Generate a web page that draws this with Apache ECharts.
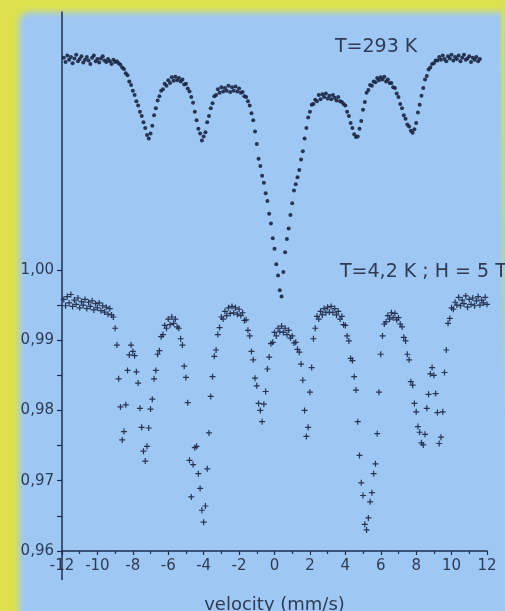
<!DOCTYPE html>
<html>
<head>
<meta charset="utf-8">
<script src="https://cdn.jsdelivr.net/npm/echarts@6/dist/echarts.min.js"></script>
<style>
  html, body { margin: 0; padding: 0; }
  body { width: 505px; height: 611px; position: relative; overflow: hidden; background: #dde24c; }
  #panel { position: absolute; left: 19px; top: 12px; right: -12px; bottom: -12px; background: #9fc7f3;
           border-top-left-radius: 10px; filter: blur(3px); }
  #edge { position: absolute; right: 0; top: 0; width: 4px; height: 420px;
          background: linear-gradient(to bottom, #d4e160, rgba(212, 225, 96, 0)); filter: blur(1px); }
  #chart { position: absolute; left: 0; top: 0; width: 505px; height: 611px; }
</style>
</head>
<body>
<div id="panel"></div>
<div id="edge"></div>
<div id="chart"></div>
<script>
// Velocity channels (mm/s)
const velocity = [
  -11.9,-11.8,-11.7,-11.6,-11.5,-11.4,-11.3,-11.2,-11.1,-11.0,
  -10.9,-10.8,-10.7,-10.6,-10.5,-10.4,-10.3,-10.2,-10.1,-10.0,
  -9.9,-9.8,-9.7,-9.6,-9.5,-9.4,-9.3,-9.2,-9.1,-9.0,
  -8.9,-8.8,-8.7,-8.6,-8.5,-8.4,-8.3,-8.2,-8.1,-8.0,
  -7.9,-7.8,-7.7,-7.6,-7.5,-7.4,-7.3,-7.2,-7.1,-7.0,
  -6.9,-6.8,-6.7,-6.6,-6.5,-6.4,-6.3,-6.2,-6.1,-6.0,
  -5.9,-5.8,-5.7,-5.6,-5.5,-5.4,-5.3,-5.2,-5.1,-5.0,
  -4.9,-4.8,-4.7,-4.6,-4.5,-4.4,-4.3,-4.2,-4.1,-4.0,
  -3.9,-3.8,-3.7,-3.6,-3.5,-3.4,-3.3,-3.2,-3.1,-3.0,
  -2.9,-2.8,-2.7,-2.6,-2.5,-2.4,-2.3,-2.2,-2.1,-2.0,
  -1.9,-1.8,-1.7,-1.6,-1.5,-1.4,-1.3,-1.2,-1.1,-1.0,
  -0.9,-0.8,-0.7,-0.6,-0.5,-0.4,-0.3,-0.2,-0.1,0.0,
  0.1,0.2,0.3,0.4,0.5,0.6,0.7,0.8,0.9,1.0,
  1.1,1.2,1.3,1.4,1.5,1.6,1.7,1.8,1.9,2.0,
  2.1,2.2,2.3,2.4,2.5,2.6,2.7,2.8,2.9,3.0,
  3.1,3.2,3.3,3.4,3.5,3.6,3.7,3.8,3.9,4.0,
  4.1,4.2,4.3,4.4,4.5,4.6,4.7,4.8,4.9,5.0,
  5.1,5.2,5.3,5.4,5.5,5.6,5.7,5.8,5.9,6.0,
  6.1,6.2,6.3,6.4,6.5,6.6,6.7,6.8,6.9,7.0,
  7.1,7.2,7.3,7.4,7.5,7.6,7.7,7.8,7.9,8.0,
  8.1,8.2,8.3,8.4,8.5,8.6,8.7,8.8,8.9,9.0,
  9.1,9.2,9.3,9.4,9.5,9.6,9.7,9.8,9.9,10.0,
  10.1,10.2,10.3,10.4,10.5,10.6,10.7,10.8,10.9,11.0,
  11.1,11.2,11.3,11.4,11.5,11.6,11.7,11.8,11.9,12.0
];

// Relative transmission at T = 293 K (stacked above the low-temperature spectrum)
const transmission293K = [
  1.0302,1.0296,1.0305,1.0299,1.0303,1.0294,1.0301,1.0306,1.0297,1.0300,
  1.0304,1.0295,1.0299,1.0303,1.0298,1.0293,1.0302,1.0305,1.0297,1.0300,
  1.0295,1.0301,1.0304,1.0298,1.0296,1.0300,1.0297,1.0293,1.0299,1.0296,
  1.0297,1.0294,1.0292,1.0288,1.0286,1.0280,1.0277,1.0268,1.0263,1.0255,
  1.0249,1.0240,1.0234,1.0225,1.0219,1.0210,1.0202,1.0192,1.0187,1.0194,
  1.0205,1.0220,1.0230,1.0241,1.0247,1.0255,1.0257,1.0265,1.0262,1.0270,
  1.0266,1.0274,1.0269,1.0275,1.0270,1.0273,1.0268,1.0271,1.0264,1.0265,
  1.0258,1.0254,1.0246,1.0238,1.0225,1.0213,1.0201,1.0194,1.0184,1.0190,
  1.0196,1.0210,1.0219,1.0230,1.0237,1.0247,1.0249,1.0257,1.0252,1.0260,
  1.0254,1.0259,1.0255,1.0262,1.0253,1.0260,1.0255,1.0261,1.0254,1.0258,
  1.0252,1.0253,1.0247,1.0246,1.0240,1.0234,1.0223,1.0213,1.0197,1.0179,
  1.0158,1.0148,1.0134,1.0124,1.0109,1.0098,1.0080,1.0066,1.0045,1.0030,
  1.0008,0.9992,0.9971,0.9962,0.9997,1.0025,1.0044,1.0059,1.0078,1.0095,
  1.0113,1.0122,1.0132,1.0142,1.0157,1.0169,1.0187,1.0202,1.0217,1.0225,
  1.0235,1.0236,1.0242,1.0240,1.0249,1.0243,1.0250,1.0246,1.0251,1.0244,
  1.0248,1.0243,1.0249,1.0245,1.0241,1.0246,1.0240,1.0239,1.0236,1.0234,
  1.0225,1.0219,1.0209,1.0202,1.0193,1.0189,1.0190,1.0201,1.0212,1.0228,
  1.0239,1.0252,1.0256,1.0263,1.0262,1.0268,1.0267,1.0273,1.0270,1.0274,
  1.0271,1.0275,1.0268,1.0271,1.0266,1.0266,1.0260,1.0259,1.0251,1.0246,
  1.0236,1.0230,1.0220,1.0215,1.0207,1.0204,1.0198,1.0195,1.0200,1.0209,
  1.0224,1.0235,1.0248,1.0259,1.0271,1.0276,1.0285,1.0288,1.0293,1.0294,
  1.0298,1.0298,1.0303,1.0299,1.0305,1.0300,1.0297,1.0304,1.0301,1.0306,
  1.0298,1.0303,1.0300,1.0305,1.0297,1.0302,1.0306,1.0299,1.0301,1.0304,
  1.0296,1.0302,1.0299,1.0303,1.0297,1.0300
];

// Relative transmission at T = 4.2 K in an applied field H = 5 T
const transmission4K = [
  0.9958,0.9949,0.9962,0.9953,0.9965,0.9948,0.9957,0.9951,0.9960,0.9946,
  0.9955,0.9950,0.9958,0.9945,0.9954,0.9948,0.9956,0.9943,0.9952,0.9946,
  0.9953,0.9942,0.9949,0.9940,0.9947,0.9937,0.9945,0.9936,0.9933,0.9917,
  0.9893,0.9845,0.9805,0.9758,0.9770,0.9808,0.9857,0.9879,0.9893,0.9884,
  0.9878,0.9855,0.9839,0.9803,0.9776,0.9742,0.9728,0.9749,0.9775,0.9802,
  0.9816,0.9845,0.9857,0.9880,0.9885,0.9905,0.9908,0.9921,0.9917,0.9930,
  0.9922,0.9933,0.9924,0.9930,0.9919,0.9917,0.9902,0.9893,0.9863,0.9847,
  0.9811,0.9729,0.9677,0.9723,0.9747,0.9749,0.9710,0.9689,0.9658,0.9641,
  0.9664,0.9717,0.9768,0.9820,0.9848,0.9877,0.9886,0.9908,0.9918,0.9933,
  0.9930,0.9941,0.9935,0.9946,0.9938,0.9948,0.9939,0.9946,0.9937,0.9944,
  0.9935,0.9939,0.9928,0.9929,0.9914,0.9906,0.9884,0.9872,0.9846,0.9835,
  0.9810,0.9800,0.9784,0.9809,0.9827,0.9859,0.9876,0.9895,0.9897,0.9911,
  0.9906,0.9917,0.9912,0.9920,0.9911,0.9917,0.9908,0.9914,0.9903,0.9906,
  0.9896,0.9897,0.9887,0.9883,0.9866,0.9843,0.9800,0.9763,0.9776,0.9826,
  0.9861,0.9902,0.9917,0.9934,0.9930,0.9941,0.9936,0.9945,0.9939,0.9947,
  0.9940,0.9948,0.9939,0.9945,0.9936,0.9941,0.9930,0.9934,0.9922,0.9921,
  0.9906,0.9899,0.9874,0.9871,0.9848,0.9829,0.9784,0.9736,0.9697,0.9679,
  0.9638,0.9630,0.9647,0.9670,0.9683,0.9710,0.9724,0.9767,0.9826,0.9880,
  0.9906,0.9923,0.9926,0.9935,0.9930,0.9939,0.9932,0.9938,0.9929,0.9932,
  0.9923,0.9919,0.9904,0.9899,0.9880,0.9872,0.9841,0.9836,0.9810,0.9798,
  0.9777,0.9769,0.9754,0.9751,0.9766,0.9803,0.9823,0.9852,0.9861,0.9850,
  0.9824,0.9797,0.9753,0.9762,0.9798,0.9854,0.9886,0.9924,0.9931,0.9946,
  0.9944,0.9954,0.9950,0.9961,0.9949,0.9957,0.9952,0.9963,0.9947,0.9958,
  0.9951,0.9960,0.9949,0.9956,0.9962,0.9950,0.9957,0.9953,0.9961,0.9951
];

// Axis ticks and labels
const yLabelValues = [0.96, 0.97, 0.98, 0.99, 1.00];
const yTickValues = [0.96, 0.965, 0.97, 0.975, 0.98, 0.985, 0.99, 0.995, 1.00];
const annotations = ['T=293 K', 'T=4,2 K ; H = 5 T'];

const AXIS = '#1c2d52';
const TEXT = '#2e3b55';
const MARK = '#192544';
const FONT = '"DejaVu Sans", Verdana, sans-serif';

const data293K = transmission293K.map((t, i) => [velocity[i], t]);
const data4K = transmission4K.map((t, i) => [velocity[i], t]);

const chart = echarts.init(document.getElementById('chart'), null, { renderer: 'canvas' });

chart.setOption({
  animation: false,
  backgroundColor: 'transparent',
  grid: { left: 62, right: 18, top: 12, bottom: 60, outerBoundsMode: 'none', containLabel: false },
  xAxis: {
    type: 'value', min: -12, max: 12, interval: 2,
    axisLine: { onZero: false, lineStyle: { color: AXIS, width: 1.5 } },
    axisTick: { length: 4, lineStyle: { color: AXIS, width: 1.2 } },
    minorTick: { show: true, splitNumber: 2, length: 3, lineStyle: { color: AXIS, width: 1.2 } },
    splitLine: { show: false },
    minorSplitLine: { show: false },
    axisLabel: { color: TEXT, fontFamily: FONT, fontSize: 15, margin: 8 },
    name: 'velocity (mm/s)', nameLocation: 'middle', nameGap: 45,
    nameTextStyle: { color: TEXT, fontFamily: FONT, fontSize: 18 }
  },
  yAxis: {
    type: 'value', min: 0.96, max: 1.0367,
    axisLine: { show: true, onZero: false, lineStyle: { color: AXIS, width: 1.5 } },
    axisTick: { show: true, length: 5, customValues: yTickValues, lineStyle: { color: AXIS, width: 1.2 } },
    splitLine: { show: false },
    axisLabel: {
      color: TEXT, fontFamily: FONT, fontSize: 15, margin: 8,
      customValues: yLabelValues,
      formatter: v => v.toFixed(2).replace('.', ',')
    }
  },
  series: [
    {
      name: 'T=293 K', type: 'scatter', data: data293K,
      symbol: 'circle', symbolSize: 4,
      itemStyle: { color: MARK, opacity: 0.9 }
    },
    {
      name: 'T=4,2 K', type: 'scatter', data: data4K,
      symbol: 'path://M2,0H3V2H5V3H3V5H2V3H0V2H2Z', symbolSize: 6,
      itemStyle: { color: MARK, opacity: 0.9 }
    }
  ]
});

// Axis stub below the origin and the two spectrum captions
const origin = chart.convertToPixel({ gridIndex: 0 }, [-12, 0.96]);
chart.setOption({
  graphic: [
    { type: 'line', shape: { x1: origin[0], y1: origin[1], x2: origin[0], y2: origin[1] + 29 },
      style: { stroke: AXIS, lineWidth: 1.5 }, z: 10 },
    { type: 'text', x: 335, y: 47,
      style: { text: annotations[0], font: '19px ' + FONT, fill: TEXT, verticalAlign: 'middle' } },
    { type: 'text', x: 340, y: 272,
      style: { text: annotations[1], font: '19px ' + FONT, fill: TEXT, verticalAlign: 'middle' } }
  ]
});
</script>
</body>
</html>
